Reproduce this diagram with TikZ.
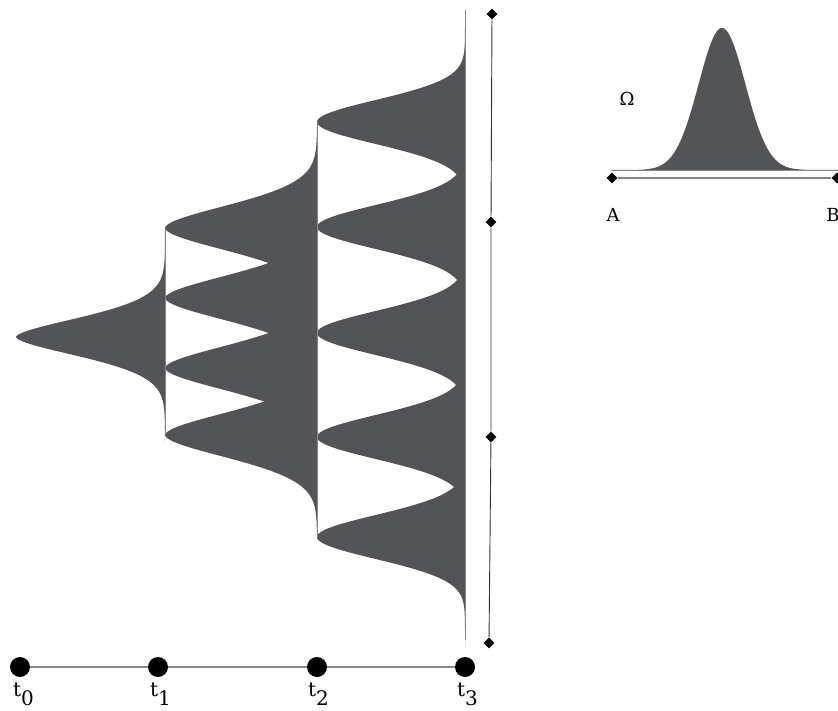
\documentclass[tikz,border=0pt]{standalone}
\usepackage{fontspec}
\setmainfont{DejaVu Serif}
\usetikzlibrary{shapes.geometric}
\definecolor{dk}{RGB}{83,84,87}
\definecolor{ax}{RGB}{135,135,135}
\newcommand\leaf[6]{\fill[dens] plot[domain={#3-#6}:{#3+#6},samples=181,smooth] ({#2-(#2-#1)*exp(-((abs(\x-#3)+0.01)/#4)^#5)},\x) -- cycle;}
\tikzset{
  dens/.style={fill=dk},
  guide/.style={draw=ax, line width=0.7pt},
  axisline/.style={draw=ax, line width=1.2pt},
  vline/.style={draw=black!80, line width=0.9pt},
  dot/.style={circle, fill=black, minimum size=20pt, inner sep=0pt},
  dia/.style={diamond, fill=black, minimum size=11pt, inner sep=0pt},
  tlab/.style={anchor=base west, inner sep=0pt, font=\fontsize{20}{24}\selectfont},
  ilab/.style={inner sep=0pt, font=\fontsize{18}{21}\selectfont},
}
\begin{document}
\begin{tikzpicture}[x=1pt,y=-1pt]
\useasboundingbox (0,0) rectangle (838,711);
% column 0
\leaf{16}{165}{337}{27.5}{1.7}{105}
% column 1
\foreach \c in {228,298,368,435}{\leaf{165}{317}{\c}{32.5}{1.8}{100}}
% column 2
\foreach \c in {122,227,333,437,537}{\leaf{317}{465}{\c}{31}{2}{112}}
% guide lines
\coordinate (g1a) at (165,228); \coordinate (g1b) at (165,435);
\coordinate (g2a) at (317,122); \coordinate (g2b) at (317,537);
\coordinate (g3a) at (465,10);  \coordinate (g3b) at (465,640);
\draw[guide] (g1a) -- (g1b);
\draw[guide] (g2a) -- (g2b);
\draw[guide] (g3a) -- (g3b);
% right vertical scale
\node[dia] (d1) at (492,14) {};
\node[dia] (d2) at (491,222) {};
\node[dia] (d3) at (491,437) {};
\node[dia] (d4) at (489,643) {};
\draw[vline] (d1) -- (d2) -- (d3) -- (d4);
% time axis
\node[dot] (t0) at (20,667) {};
\node[dot] (t1) at (158,667) {};
\node[dot] (t2) at (317,667) {};
\node[dot] (t3) at (465,667) {};
\draw[axisline] (t0) -- (t1) -- (t2) -- (t3);
\node[tlab] (l0) at (13,696) {t\raisebox{-9pt}{0}};
\node[tlab] (l1) at (150,696) {t\raisebox{-9pt}{1}};
\node[tlab] (l2) at (308,696) {t\raisebox{-9pt}{2}};
\node[tlab] (l3) at (457,696) {t\raisebox{-9pt}{3}};
% inset
\fill[dens] plot[domain=612:840,samples=181,smooth] ({\x},{170-142*exp(-((\x-722)/33)*((\x-722)/33))}) -- cycle;
\coordinate (ba) at (612,170); \coordinate (bb) at (840,170);
\draw[guide, line width=0.5pt] (ba) -- (bb);
\node[dia] (A) at (612,178) {};
\node[dia] (B) at (837,178) {};
\draw[axisline] (A) -- (B);
\node[ilab] (la) at (613,215) {A};
\node[ilab] (lb) at (833,215) {B};
\node[ilab] (om) at (627,99) {Ω};
\end{tikzpicture}
\end{document}
